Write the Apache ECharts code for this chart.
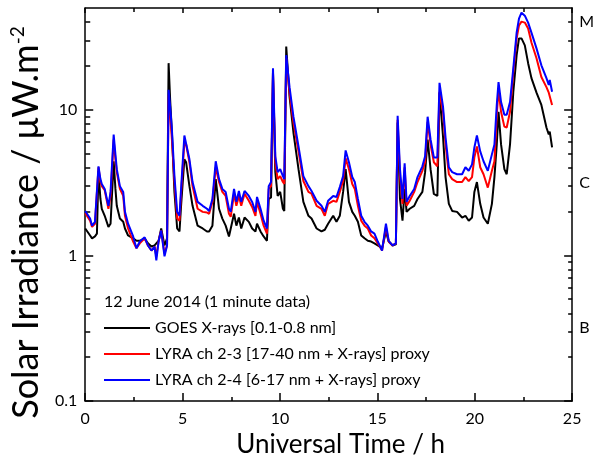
<!DOCTYPE html>
<html><head><meta charset="utf-8">
<script src="https://cdn.jsdelivr.net/npm/echarts@6/dist/echarts.min.js"></script>
<style>html,body{margin:0;padding:0;background:#fff}#c{width:597px;height:463px}</style>
</head><body><div id="c"></div>
<script>
// Universal Time (h)
const hours=[
0,0.25,0.35,0.5,0.6,0.68,0.78,0.85,1.0,1.19,
1.3,1.46,1.55,1.62,1.78,1.95,2.04,2.2,2.46,2.63,
2.8,3.05,3.22,3.4,3.56,3.65,3.77,3.9,4.07,4.2,
4.28,4.36,4.45,4.58,4.72,4.84,4.92,5.09,5.18,5.35,
5.51,5.77,6.03,6.25,6.36,6.53,6.7,6.87,7.04,7.21,
7.38,7.47,7.64,7.76,7.89,8.01,8.18,8.4,8.57,8.74,
8.82,9.0,9.16,9.33,9.42,9.54,9.64,9.76,9.88,10.01,
10.15,10.22,10.32,10.49,10.69,10.95,11.2,11.46,11.62,11.88,
12.13,12.3,12.47,12.73,12.9,13.07,13.24,13.37,13.54,13.71,
13.84,14.0,14.17,14.34,14.51,14.68,14.85,15.02,15.24,15.44,
15.58,15.78,15.95,16.04,16.16,16.29,16.4,16.5,16.66,16.89,
17.06,17.31,17.45,17.58,17.73,17.9,18.08,18.19,18.37,18.5,
18.67,18.84,19.09,19.35,19.52,19.69,19.86,19.98,20.11,20.28,
20.45,20.67,20.88,21.01,21.13,21.22,21.35,21.52,21.64,21.81,
21.98,22.15,22.27,22.4,22.57,22.74,22.91,23.17,23.42,23.68,
23.8,23.85,23.97];
// GOES X-rays [0.1-0.8 nm]
const goes=[
1.53,1.37,1.31,1.35,1.41,3.8,2.44,2.09,1.87,1.57,
1.65,4.43,2.86,2.19,1.79,1.70,1.53,1.37,1.31,1.26,
1.26,1.31,1.21,1.15,1.17,1.17,1.26,1.53,1.17,1.31,
20.9,11.7,6.98,2.73,1.53,1.46,2.19,4.57,4.36,2.99,
2.19,1.60,1.53,1.46,1.46,1.60,3.34,2.09,1.79,1.60,
1.35,1.31,1.93,1.60,1.82,1.53,1.82,1.70,1.53,1.46,
1.65,1.46,1.35,1.26,2.44,2.5,17.9,3.73,2.56,2.73,
2.09,2.02,27.2,12.3,6.98,3.91,2.33,1.87,1.79,1.53,
1.46,1.50,1.65,1.87,1.70,1.87,2.73,3.91,2.33,1.99,
1.87,1.70,1.37,1.31,1.26,1.245,1.21,1.17,1.12,1.46,
1.245,1.17,1.19,8.16,2.44,1.73,2.86,1.99,2.09,2.19,
2.44,2.73,3.73,6.25,3.91,2.64,2.56,13.1,6.55,3.45,
2.26,2.02,1.99,1.82,1.87,1.73,1.82,2.73,3.19,2.26,
1.82,1.65,2.26,3.45,5.78,9.69,5.78,3.91,3.61,5.78,
13.3,23.7,30.9,30.9,27.7,20.9,16.5,13.1,10.8,7.55,
6.76,7.09,5.51];
// LYRA ch 2-3 proxy
const lyra23=[
1.95,1.73,1.57,1.65,1.70,4.03,3.19,2.99,2.80,2.09,
2.56,6.25,4.57,3.73,2.86,2.56,1.87,1.53,1.245,1.12,
1.21,1.31,1.17,1.08,1.15,0.985,1.26,1.48,1.03,1.17,
12.6,9.24,6.25,3.19,1.79,1.73,2.65,5.97,5.78,4.36,
2.99,2.09,1.99,1.97,1.93,2.33,4.03,3.19,2.73,2.56,
1.93,1.84,2.65,2.19,2.56,2.19,2.65,2.37,2.15,1.87,
2.33,1.93,1.60,1.41,2.86,2.99,18.1,4.36,3.34,3.50,
3.19,3.09,22.6,13.1,8.16,5.18,3.24,2.73,2.65,2.19,
2.09,1.87,2.26,2.37,2.33,2.73,3.24,4.64,3.91,3.09,
2.86,2.19,1.73,1.60,1.53,1.37,1.31,1.21,1.08,1.57,
1.245,1.17,1.21,8.55,3.50,2.26,4.03,2.19,2.37,2.73,
3.19,3.81,4.36,8.28,5.78,4.36,4.09,13.3,9.69,5.78,
3.61,3.34,3.19,3.19,3.45,3.24,3.45,4.71,5.60,4.03,
3.61,2.92,3.81,4.43,9.24,13.7,9.69,7.66,7.55,9.69,
18.1,30.9,37.9,40.3,39.7,36.1,29.0,22.6,16.8,14.3,
13.1,13.3,10.8];
// LYRA ch 2-4 proxy
const lyra24=[
2.02,1.79,1.60,1.70,1.73,4.09,3.34,3.09,2.86,2.19,
2.73,6.76,4.94,3.91,2.99,2.73,1.99,1.65,1.35,1.12,
1.245,1.33,1.17,1.08,1.15,0.925,1.26,1.48,0.985,1.17,
13.7,10.5,7.31,3.50,1.99,1.87,2.86,6.65,6.45,4.57,
3.19,2.33,2.19,2.09,2.02,2.44,4.43,3.34,2.86,2.73,
2.09,1.99,2.86,2.33,2.77,2.33,2.77,2.56,2.33,1.99,
2.52,2.09,1.73,1.53,2.99,3.19,19.3,4.79,3.73,3.91,
3.50,3.34,23.7,14.3,8.96,5.60,3.50,2.99,2.77,2.37,
2.19,1.99,2.37,2.56,2.52,2.95,3.50,5.26,4.36,3.45,
3.19,2.44,1.87,1.70,1.60,1.46,1.41,1.245,1.08,1.65,
1.26,1.17,1.21,9.10,3.91,2.44,4.29,2.33,2.56,2.86,
3.45,4.09,4.79,8.96,6.25,4.71,4.71,15.3,10.5,6.45,
4.03,3.73,3.61,3.61,4.03,3.81,4.22,5.51,6.65,5.18,
4.43,3.81,4.94,5.78,10.8,15.5,11.3,9.24,9.24,11.3,
19.3,33.9,42.2,46.4,44.3,39.7,33.9,26.4,20.2,16.5,
14.8,16.0,13.3];

const seriesNames=['GOES X-rays [0.1-0.8 nm]','LYRA ch 2-3 [17-40 nm + X-rays] proxy','LYRA ch 2-4 [6-17 nm + X-rays] proxy'];
const seriesColors=['#000000','#ff0000','#0000ff'];
const yMajorTicks=[0.1,1,10];
const yMinorTicks=[0.2,0.3,0.4,0.5,0.6,0.7,0.8,0.9,2,3,4,5,6,7,8,9,20,30,40];
const classValues=[0.316,3.16,40];
const classNames=['B','C','M'];
const FONT='Lato';

function pairs(vals){return hours.map((h,i)=>[h,vals[i]]);}
const allVals=[goes,lyra23,lyra24];

const axLine={show:true,lineStyle:{color:'#000',width:1.5}};
const logBase={type:'log',logBase:10,min:0.1,max:50,splitLine:{show:false},gridIndex:0};
// legend line icon: thin bar inside a 46x14 box (degenerate corner points keep the box)
const lineIcon='path://M0,0L0.01,0L0,0.01ZM0,6L46,6L46,8L0,8ZM46,14L45.99,14L46,13.99Z';

const chart=echarts.init(document.getElementById('c'),null,{renderer:'canvas'});
chart.setOption({
  animation:false,
  backgroundColor:'#fff',
  grid:{left:85,right:21,top:8,bottom:60,containLabel:false},
  title:{text:'12 June 2014 (1 minute data)',left:104,top:294,padding:0,
    textStyle:{fontSize:16,fontWeight:'normal',fontFamily:FONT,color:'#000'}},
  legend:{orient:'vertical',left:104,top:320,padding:0,itemWidth:46,itemHeight:14,itemGap:10,
    icon:lineIcon,itemStyle:{borderWidth:0},
    data:seriesNames,textStyle:{fontSize:16,fontFamily:FONT,color:'#000'}},
  xAxis:[
    {type:'value',min:0,max:25,interval:5,position:'bottom',
     axisLine:axLine,splitLine:{show:false},
     axisTick:{show:true,inside:true,length:8,lineStyle:{color:'#000',width:1.5}},
     minorTick:{show:true,splitNumber:2,length:4,lineStyle:{color:'#000',width:1.5}},
     axisLabel:{fontSize:16,fontFamily:FONT,color:'#000',margin:10},
     name:'Universal Time / h',nameLocation:'middle',nameGap:31,
     nameTextStyle:{fontSize:26,fontFamily:FONT,color:'#000',padding:[0,0,0,24]}},
    {type:'value',min:0,max:25,interval:5,position:'top',
     axisLine:axLine,splitLine:{show:false},
     axisTick:{show:true,inside:true,length:5,lineStyle:{color:'#000',width:1.5}},
     minorTick:{show:true,splitNumber:2,length:4,lineStyle:{color:'#000',width:1.5}},
     axisLabel:{show:false}}
  ],
  yAxis:[
    Object.assign({},logBase,{position:'left',axisLine:axLine,
     axisTick:{show:true,inside:true,length:8,customValues:yMajorTicks,lineStyle:{color:'#000',width:1.5}},
     axisLabel:{fontSize:16,fontFamily:FONT,color:'#000',margin:8,customValues:yMajorTicks,
       formatter:v=>String(v)},
     name:'Solar Irradiance / μW.m{sup|-2}',nameLocation:'middle',nameRotate:90,nameGap:40,
     nameTextStyle:{fontSize:36,fontFamily:FONT,color:'#000',padding:[0,36,0,0],
       rich:{sup:{fontSize:19,fontFamily:FONT,color:'#000',verticalAlign:'top',padding:[0,0,14,0]}}}}),
    Object.assign({},logBase,{position:'left',axisLine:{show:false},
     axisTick:{show:true,inside:true,length:5,customValues:yMinorTicks,lineStyle:{color:'#000',width:1.5}},
     axisLabel:{show:false}}),
    Object.assign({},logBase,{position:'right',axisLine:axLine,
     axisTick:{show:true,inside:true,length:8,customValues:yMajorTicks,lineStyle:{color:'#000',width:1.5}},
     axisLabel:{fontSize:16,fontFamily:FONT,color:'#000',margin:7,customValues:classValues,
       formatter:v=>{let best=0;classValues.forEach((c,i)=>{if(Math.abs(Math.log10(c)-Math.log10(v))<Math.abs(Math.log10(classValues[best])-Math.log10(v)))best=i;});return classNames[best];}}}),
    Object.assign({},logBase,{position:'right',axisLine:{show:false},
     axisTick:{show:true,inside:true,length:4,customValues:yMinorTicks,lineStyle:{color:'#000',width:1.5}},
     axisLabel:{show:false}})
  ],
  series:seriesNames.map((n,i)=>({
    name:n,type:'line',xAxisIndex:0,yAxisIndex:0,symbol:'none',smooth:false,
    lineStyle:{color:seriesColors[i],width:2},itemStyle:{color:seriesColors[i]},
    data:pairs(allVals[i]),z:2+i
  }))
});
</script></body></html>
